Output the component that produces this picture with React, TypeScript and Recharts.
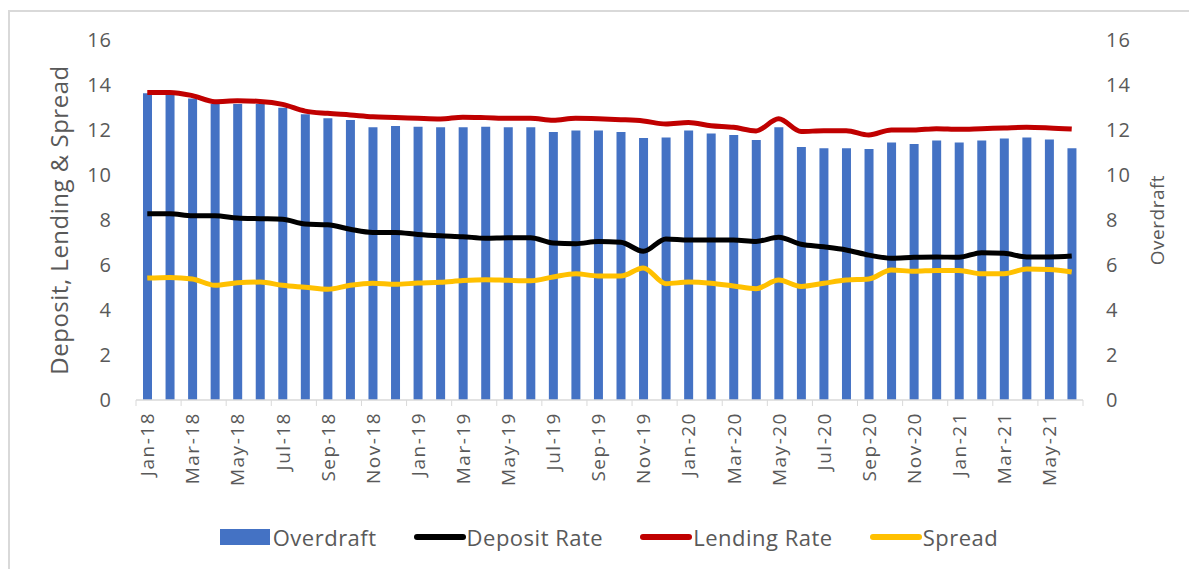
import {
  ComposedChart,
  Bar,
  Line,
  XAxis,
  YAxis,
  Legend,
} from 'recharts'

const months = [
  'Jan-18', 'Feb-18', 'Mar-18', 'Apr-18', 'May-18', 'Jun-18', 'Jul-18', 'Aug-18', 'Sep-18', 'Oct-18', 'Nov-18', 'Dec-18',
  'Jan-19', 'Feb-19', 'Mar-19', 'Apr-19', 'May-19', 'Jun-19', 'Jul-19', 'Aug-19', 'Sep-19', 'Oct-19', 'Nov-19', 'Dec-19',
  'Jan-20', 'Feb-20', 'Mar-20', 'Apr-20', 'May-20', 'Jun-20', 'Jul-20', 'Aug-20', 'Sep-20', 'Oct-20', 'Nov-20', 'Dec-20',
  'Jan-21', 'Feb-21', 'Mar-21', 'Apr-21', 'May-21', 'Jun-21',
]

const overdraft = [
  13.63, 13.63, 13.4, 13.16, 13.16, 13.16, 12.99, 12.7, 12.52, 12.44, 12.12, 12.18,
  12.15, 12.12, 12.12, 12.15, 12.12, 12.12, 11.91, 11.98, 11.98, 11.91, 11.64, 11.67,
  11.98, 11.85, 11.78, 11.56, 12.12, 11.24, 11.19, 11.19, 11.16, 11.45, 11.38, 11.53,
  11.45, 11.53, 11.62, 11.67, 11.58, 11.19,
]

const depositRate = [
  8.28, 8.28, 8.19, 8.19, 8.09, 8.06, 8.03, 7.82, 7.79, 7.59, 7.45, 7.45,
  7.36, 7.3, 7.26, 7.19, 7.21, 7.21, 6.98, 6.95, 7.04, 7.01, 6.61, 7.16,
  7.11, 7.11, 7.11, 7.05, 7.23, 6.92, 6.81, 6.67, 6.44, 6.3, 6.34, 6.36,
  6.34, 6.55, 6.52, 6.36, 6.36, 6.4,
]

const lendingRate = [
  13.67, 13.67, 13.53, 13.26, 13.3, 13.27, 13.14, 12.84, 12.74, 12.67, 12.59, 12.56,
  12.52, 12.49, 12.57, 12.55, 12.52, 12.52, 12.43, 12.52, 12.5, 12.46, 12.4, 12.27,
  12.33, 12.19, 12.12, 11.96, 12.5, 11.93, 11.97, 11.97, 11.78, 12.0, 12.0, 12.06,
  12.03, 12.06, 12.09, 12.12, 12.09, 12.04,
]

const spread = [
  5.42, 5.45, 5.38, 5.1, 5.21, 5.24, 5.1, 5.01, 4.92, 5.1, 5.19, 5.14,
  5.2, 5.23, 5.31, 5.35, 5.32, 5.3, 5.47, 5.61, 5.51, 5.51, 5.87, 5.17,
  5.24, 5.19, 5.07, 4.95, 5.33, 5.05, 5.19, 5.33, 5.38, 5.78, 5.72, 5.76,
  5.76, 5.61, 5.61, 5.82, 5.8, 5.69,
]

const yTicks = [0, 2, 4, 6, 8, 10, 12, 14, 16]

const legendItems = [
  { name: 'Overdraft', color: '#4472c4', kind: 'bar' },
  { name: 'Deposit Rate', color: '#000000', kind: 'line' },
  { name: 'Lending Rate', color: '#c00000', kind: 'line' },
  { name: 'Spread', color: '#ffc000', kind: 'line' },
]

const data = months.map((m, i) => ({
  month: m,
  overdraft: overdraft[i],
  deposit: depositRate[i],
  lending: lendingRate[i],
  spread: spread[i],
}))

const FONT = '"Open Sans", Lato, sans-serif'
const TEXT = '#595959'
const BAND = 947 / months.length

function MonthTick(props: any) {
  const { x, y, payload } = props
  const lastTick = payload.value === months[months.length - 2]
  return (
    <g>
      <line x1={x - BAND / 2} y1={y - 8} x2={x - BAND / 2} y2={y - 2} stroke="#d9d9d9" />
      {lastTick && (
        <line x1={x + BAND * 1.5} y1={y - 8} x2={x + BAND * 1.5} y2={y - 2} stroke="#d9d9d9" />
      )}
      <text
        x={x}
        y={y + 4}
        transform={`rotate(-90, ${x}, ${y + 4})`}
        textAnchor="end"
        dominantBaseline="central"
        fill={TEXT}
        fontSize={19}
        fontFamily={FONT}
        letterSpacing={1.5}
      >
        {payload.value}
      </text>
    </g>
  )
}

function AxisTitle({ viewBox, text, dx, size }: any) {
  const cx = viewBox.x + dx
  const cy = viewBox.y + viewBox.height / 2
  return (
    <text
      x={cx}
      y={cy}
      transform={`rotate(-90, ${cx}, ${cy})`}
      textAnchor="middle"
      dominantBaseline="central"
      fill={TEXT}
      fontSize={size}
      fontFamily={FONT}
      letterSpacing={0.5}
    >
      {text}
    </text>
  )
}

function ChartLegend() {
  return (
    <div style={{ display: 'flex', justifyContent: 'center', alignItems: 'center', gap: 36, paddingLeft: 12 }}>
      {legendItems.map((item) => (
        <div key={item.name} style={{ display: 'flex', alignItems: 'center' }}>
          <svg width={54} height={20}>
            {item.kind === 'bar' ? (
              <rect x={1} y={2} width={50} height={16} fill={item.color} />
            ) : (
              <line x1={4} y1={10} x2={50} y2={10} stroke={item.color} strokeWidth={6} strokeLinecap="round" />
            )}
          </svg>
          <span style={{ fontFamily: FONT, fontSize: 22, color: TEXT, lineHeight: '24px', letterSpacing: 0.5 }}>
            {item.name}
          </span>
        </div>
      ))}
    </div>
  )
}

export default function App() {
  return (
    <div style={{ position: 'relative', width: 1189, height: 561 }}>
      <div
        style={{
          position: 'absolute',
          left: 0,
          top: 2,
          width: 1189,
          height: 560,
          borderLeft: '2px solid #d9d9d9',
          borderTop: '2px solid #d9d9d9',
          boxSizing: 'border-box',
        }}
      />
      <ComposedChart
        width={1189}
        height={561}
        data={data}
        margin={{ top: 32, right: 0, bottom: 8, left: 0 }}
        barSize={9}
        style={{ position: 'absolute', left: 0, top: 0 }}
      >
        <XAxis
          dataKey="month"
          interval={1}
          height={125}
          axisLine={{ stroke: '#d9d9d9', strokeWidth: 1.5 }}
          tickLine={false}
          tick={<MonthTick />}
        />
        <YAxis
          yAxisId="left"
          orientation="left"
          width={128}
          domain={[0, 16]}
          ticks={yTicks}
          axisLine={false}
          tickLine={false}
          tickSize={0}
          tickMargin={24}
          tick={{ fill: TEXT, fontSize: 20, fontFamily: FONT, letterSpacing: 1 }}
          label={(p: any) => <AxisTitle {...p} text="Deposit, Lending & Spread" dx={50} size={24} />}
        />
        <YAxis
          yAxisId="right"
          orientation="right"
          width={114}
          domain={[0, 16]}
          ticks={yTicks}
          axisLine={false}
          tickLine={false}
          tickSize={0}
          tickMargin={23}
          tick={{ fill: TEXT, fontSize: 20, fontFamily: FONT, textAnchor: 'start', letterSpacing: 1 }}
          label={(p: any) => <AxisTitle {...p} text="Overdraft" dx={74} size={19} />}
        />
        <Legend verticalAlign="bottom" height={36} content={() => <ChartLegend />} />
        <Bar yAxisId="right" dataKey="overdraft" name="Overdraft" fill="#4472c4" isAnimationActive={false} />
        <Line
          yAxisId="left"
          type="monotone"
          dataKey="deposit"
          name="Deposit Rate"
          stroke="#000000"
          strokeWidth={5}
          dot={false}
          isAnimationActive={false}
        />
        <Line
          yAxisId="left"
          type="monotone"
          dataKey="lending"
          name="Lending Rate"
          stroke="#c00000"
          strokeWidth={5}
          dot={false}
          isAnimationActive={false}
        />
        <Line
          yAxisId="left"
          type="monotone"
          dataKey="spread"
          name="Spread"
          stroke="#ffc000"
          strokeWidth={5}
          dot={false}
          isAnimationActive={false}
        />
      </ComposedChart>
    </div>
  )
}
